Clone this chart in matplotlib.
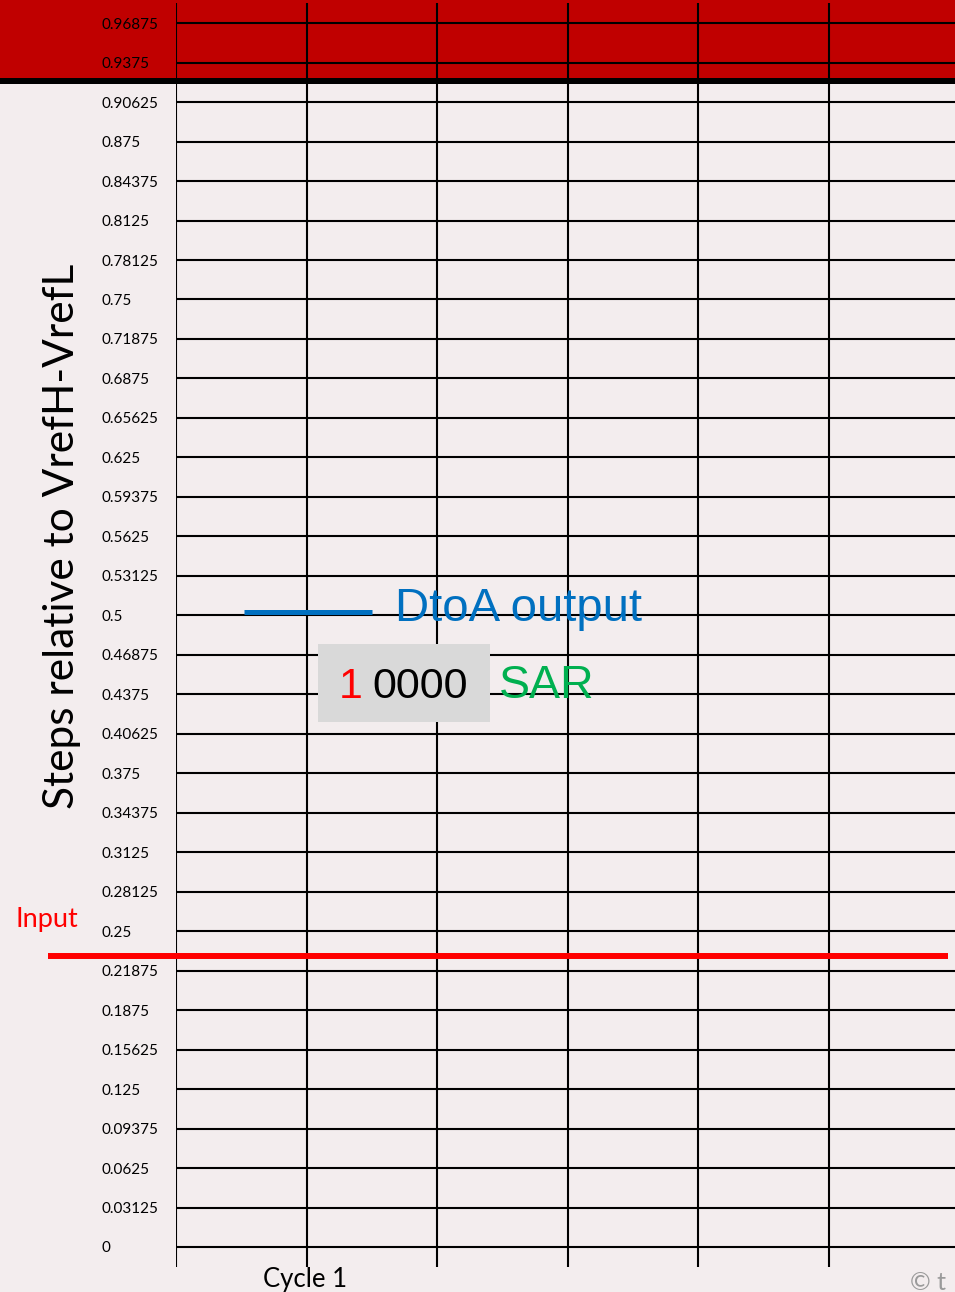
import matplotlib
matplotlib.use("Agg")
import matplotlib.pyplot as plt
from matplotlib.patches import Rectangle
import numpy as np

# ---- data ----
tick_values = [i / 32 for i in range(32)]          # 0 .. 0.96875
tick_labels = ["0", "0.03125", "0.0625", "0.09375", "0.125", "0.15625", "0.1875",
               "0.21875", "0.25", "0.28125", "0.3125", "0.34375", "0.375", "0.40625",
               "0.4375", "0.46875", "0.5", "0.53125", "0.5625", "0.59375", "0.625",
               "0.65625", "0.6875", "0.71875", "0.75", "0.78125", "0.8125", "0.84375",
               "0.875", "0.90625", "0.9375", "0.96875"]
cycle_lines = [0, 1, 2, 3, 4, 5]
cycle_labels = ["Cycle 1"]
input_level = 0.23
dtoa_level = 0.5
sar_msb = "1"
sar_rest = "0000"

W, H = 955, 1292
fig = plt.figure(figsize=(W / 100, H / 100), dpi=100)
fig.patch.set_facecolor("#F3EDEE")

def fx(px):
    return px / W

def fy(py):
    return 1 - py / H

# top red band and black rule
fig.add_artist(Rectangle((0, fy(78)), 1, 78 / H, transform=fig.transFigure,
                         facecolor="#C00000", edgecolor="none", zorder=-2))
fig.add_artist(Rectangle((0, fy(84)), 1, 6 / H, transform=fig.transFigure,
                         facecolor="#000000", edgecolor="none", zorder=3))

left_px = 176
col_px = 130.6
y0_px = 1247
step_px = 39.48
unit_px = 32 * step_px

ax = fig.add_axes([fx(left_px), 0, 1 - fx(left_px), 1])
ax.patch.set_visible(False)
ax.set_xlim(0, (W - left_px) / col_px)
ax.set_ylim(-(H - y0_px) / unit_px, y0_px / unit_px)
for s in ax.spines.values():
    s.set_visible(False)
ax.set_xticks([])

# horizontal grid lines
for v in tick_values:
    ax.plot([0, ax.get_xlim()[1]], [v, v], color="black", lw=1.5, zorder=2,
            solid_capstyle="butt")
# vertical cycle lines
vtop = (y0_px - 3) / unit_px
vbot = (y0_px - 1267) / unit_px
for c in cycle_lines:
    ax.plot([c, c], [vbot, vtop], color="black", lw=1.5, zorder=2,
            solid_capstyle="butt")

ax.set_yticks(tick_values)
ax.set_yticklabels(tick_labels, fontsize=11, family="Lato", ha="left")
ax.tick_params(axis="y", length=0, pad=54)

# Input line
ax.plot([(48 - left_px) / col_px, (948 - left_px) / col_px], [input_level, input_level],
        color="#FF0000", lw=4.3, clip_on=False, zorder=4, solid_capstyle="butt")
fig.text(fx(15), fy(920), "Input", color="#FF0000", fontsize=19.5, family="Lato",
         ha="left", va="center")

# DtoA output legend
ax.plot([(244 - left_px) / col_px, (372 - left_px) / col_px], [dtoa_level + 0.003] * 2,
        color="#0070C0", lw=3.6, zorder=4, solid_capstyle="butt")
fig.text(fx(395), fy(609), "DtoA output", color="#0070C0", fontsize=34,
         family="Liberation Sans", ha="left", va="center")

# SAR box
fig.add_artist(Rectangle((fx(318), fy(722)), fx(490) - fx(318), (722 - 644) / H,
                         transform=fig.transFigure, facecolor="#D9D9D9",
                         edgecolor="none", zorder=5))
fig.text(fx(339), fy(687), sar_msb, color="#FF0000", fontsize=31,
         family="Liberation Sans", ha="left", va="center", zorder=6)
fig.text(fx(372), fy(687), sar_rest, color="black", fontsize=31,
         family="Liberation Sans", ha="left", va="center", zorder=6)
fig.text(fx(499), fy(686), "SAR", color="#00B050", fontsize=33.5,
         family="Liberation Sans", ha="left", va="center")

# Y label
fig.text(fx(62), fy(536), "Steps relative to VrefH-VrefL", rotation=90,
         fontsize=30.5, family="Lato", ha="center", va="center", color="black")

# Cycle label
fig.text(fx(305), fy(1279), cycle_labels[0], fontsize=18.5, family="Lato",
         ha="center", va="center", color="black")

# copyright
fig.text(fx(910), fy(1282), "© t", fontsize=18, family="Lato", ha="left",
         va="center", color="#9A9A9A")

fig.savefig("out.png", dpi=100, facecolor=fig.get_facecolor())
